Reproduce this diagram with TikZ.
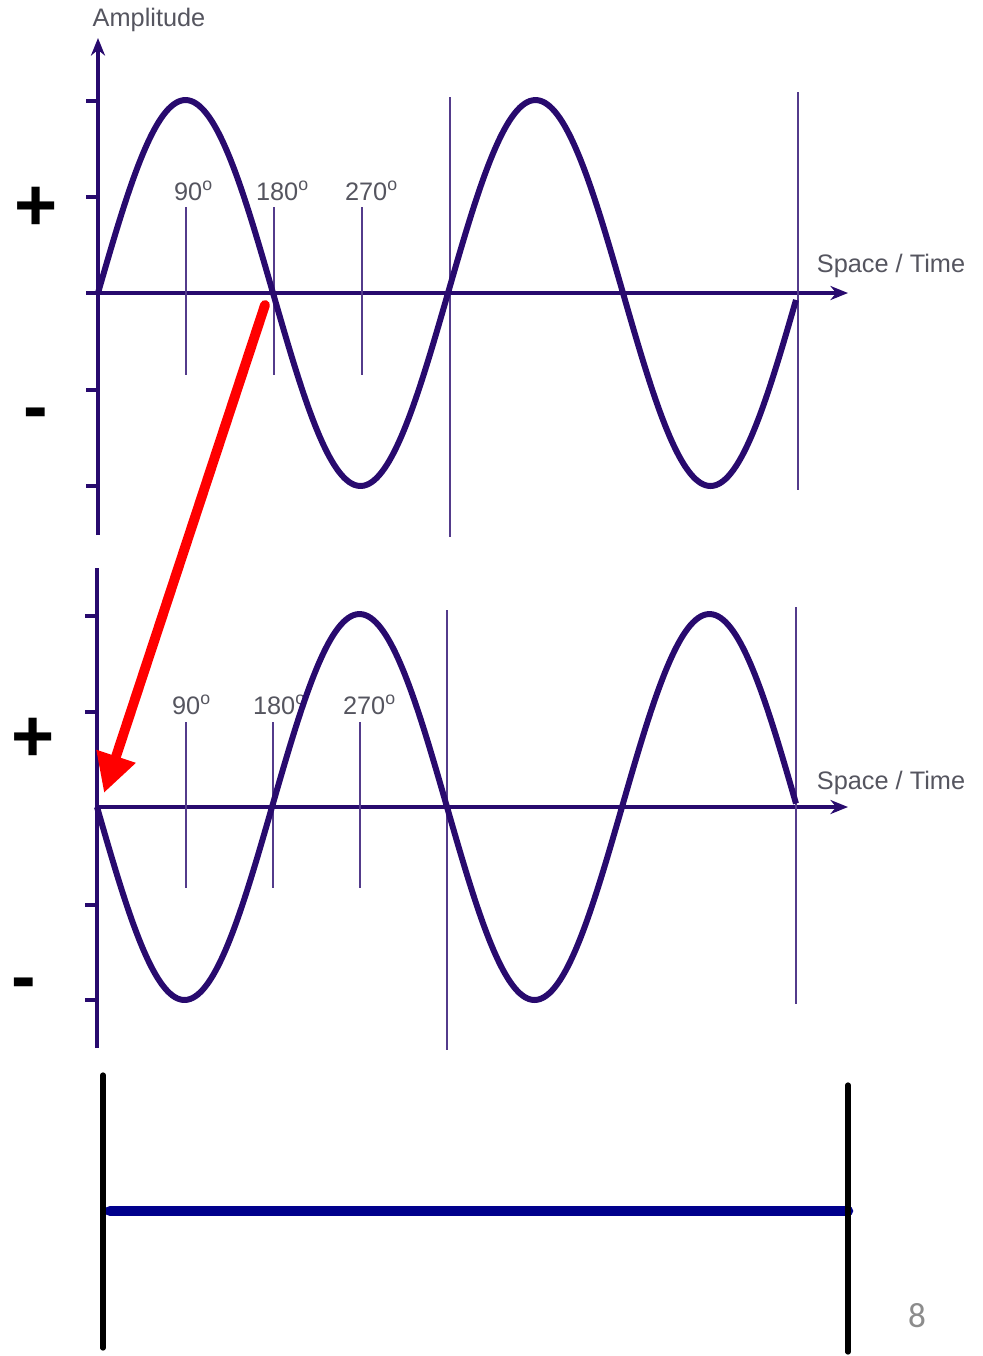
\documentclass[tikz,border=0pt]{standalone}
\usepackage{fontspec}
\setmainfont{Liberation Sans}
\newfontfamily\slidefont{Carlito}
\usetikzlibrary{arrows.meta}
\definecolor{wavecol}{RGB}{40,10,110}
\definecolor{labelgray}{RGB}{85,85,95}
\definecolor{barblue}{RGB}{0,0,140}
\definecolor{pagegray}{RGB}{140,140,140}
% one period of the wave, in px
\newcommand{\wavepath}[3]{%
  \draw[wave] plot[domain=#1:796, samples=140, smooth] (\x,{#2-#3*193*sin((\x-#1)/350*360)});}

\begin{document}
\begin{tikzpicture}[x=0.01cm, y=-0.01cm,
  every node/.style={font=\fontsize{7.2}{9}\selectfont, text=labelgray, inner sep=0pt},
  wave/.style={wavecol, line width=1.7pt},
  axis/.style={wavecol, line width=0.9pt},
  guide/.style={wavecol!80, line width=0.5pt},
  sign/.style={font=\bfseries\fontsize{21}{24}\selectfont, text=black},
  >={Stealth[length=5pt, width=4pt]}]
\useasboundingbox (0,0) rectangle (983,1356);
% top panel: axes
\coordinate (ytop1) at (98,38);
\coordinate (ybot1) at (98,535);
\coordinate (xleft1) at (86,293);
\coordinate (xright1) at (848,293);
\draw[axis,->] (ybot1) -- (ytop1);
\draw[axis,->] (xleft1) -- (xright1);
\foreach \t in {101,197,390,486}{\draw[axis] (86,\t) -- (98,\t);}
\node (amp) at (149,20) {Amplitude};
\node (st1) at (891,266) {Space / Time};
% guide lines
\foreach \g in {186,274,362}{\draw[guide] (\g,207) -- (\g,375);}
\draw[guide] (450,97) -- (450,537);
\draw[guide] (798,92) -- (798,490);
\node (a90) at (194,191) {90\textsuperscript{o}};
\node (a180) at (283,191) {180\textsuperscript{o}};
\node (a270) at (372,191) {270\textsuperscript{o}};
\wavepath{98}{293}{1}
\node[sign] (plus1) at (36,209) {+};
\node[sign] (minus1) at (36,420) {-};
% bottom panel: axes
\coordinate (ytop2) at (97,568);
\coordinate (ybot2) at (97,1048);
\coordinate (xleft2) at (97,807);
\coordinate (xright2) at (848,807);
\draw[axis] (ybot2) -- (ytop2);
\draw[axis,->] (xleft2) -- (xright2);
\foreach \t in {616,712,905,1000}{\draw[axis] (85,\t) -- (97,\t);}
\node (st2) at (891,783) {Space / Time};
\foreach \g in {186,273,360}{\draw[guide] (\g,722) -- (\g,888);}
\draw[guide] (447,610) -- (447,1050);
\draw[guide] (796,607) -- (796,1004);
\node (b90) at (192,705) {90\textsuperscript{o}};
\node (b180) at (280,705) {180\textsuperscript{o}};
\node (b270) at (370,705) {270\textsuperscript{o}};
\wavepath{97}{807}{-1}
\node[sign] (plus2) at (33,740) {+};
\node[sign] (minus2) at (24,990) {-};
% red shift arrow
\coordinate (from) at (265,305);
\coordinate (to) at (104,793);
\draw[red, line width=2.8pt, line cap=round, -{Triangle[length=11pt, width=11pt]}] (from) -- (to);
% span marker
\coordinate (s1top) at (103,1075);
\coordinate (s1bot) at (103,1348);
\coordinate (s2top) at (848,1085);
\coordinate (s2bot) at (848,1352);
\coordinate (bl) at (110,1211);
\coordinate (br) at (848,1211);
\draw[barblue, line width=3pt, line cap=round] (bl) -- (br);
\draw[black, line width=1.5pt, line cap=round] (s1top) -- (s1bot);
\draw[black, line width=1.5pt, line cap=round] (s2top) -- (s2bot);
\node[font=\slidefont\fontsize{10}{12}\selectfont, text=pagegray] (page) at (917,1316) {8};
\end{tikzpicture}
\end{document}
